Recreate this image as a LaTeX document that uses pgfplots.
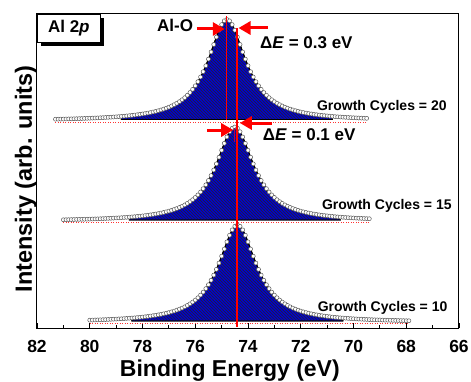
\documentclass[border=0pt]{standalone}
\usepackage{fontspec}
\setmainfont{Liberation Sans}
\usepackage{pgfplots}
\pgfplotsset{compat=1.18}
\usepackage{pgfplotstable}
\usetikzlibrary{arrows.meta,patterns,shadows}

% Growth Cycles = 20 (peak at 74.8 eV), normalized intensity
\pgfplotstableread{
x y
81.3 0.0028
81.2 0.0034
81.1 0.0040
81.0 0.0046
80.9 0.0052
80.8 0.0059
80.7 0.0066
80.6 0.0074
80.5 0.0081
80.4 0.0089
80.3 0.0098
80.2 0.0108
80.1 0.0117
80.0 0.0127
79.9 0.0138
79.8 0.0149
79.7 0.0161
79.6 0.0175
79.5 0.0188
79.4 0.0202
79.3 0.0218
79.2 0.0233
79.1 0.0251
79.0 0.0270
78.9 0.0290
78.8 0.0312
78.7 0.0334
78.6 0.0359
78.5 0.0385
78.4 0.0414
78.3 0.0445
78.2 0.0478
78.1 0.0515
78.0 0.0554
77.9 0.0597
77.8 0.0644
77.7 0.0695
77.6 0.0751
77.5 0.0813
77.4 0.0880
77.3 0.0956
77.2 0.1039
77.1 0.1131
77.0 0.1234
76.9 0.1350
76.8 0.1479
76.7 0.1624
76.6 0.1788
76.5 0.1974
76.4 0.2185
76.3 0.2425
76.2 0.2699
76.1 0.3013
76.0 0.3371
75.9 0.3782
75.8 0.4250
75.7 0.4781
75.6 0.5378
75.5 0.6038
75.4 0.6753
75.3 0.7501
75.2 0.8244
75.1 0.8932
75.0 0.9493
74.9 0.9869
74.8 1.0000
74.7 0.9869
74.6 0.9493
74.5 0.8932
74.4 0.8244
74.3 0.7501
74.2 0.6753
74.1 0.6038
74.0 0.5378
73.9 0.4781
73.8 0.4250
73.7 0.3782
73.6 0.3371
73.5 0.3013
73.4 0.2699
73.3 0.2425
73.2 0.2185
73.1 0.1974
73.0 0.1788
72.9 0.1624
72.8 0.1479
72.7 0.1350
72.6 0.1234
72.5 0.1131
72.4 0.1039
72.3 0.0956
72.2 0.0880
72.1 0.0813
72.0 0.0751
71.9 0.0695
71.8 0.0644
71.7 0.0597
71.6 0.0554
71.5 0.0515
71.4 0.0478
71.3 0.0445
71.2 0.0414
71.1 0.0385
71.0 0.0359
70.9 0.0334
70.8 0.0312
70.7 0.0290
70.6 0.0270
70.5 0.0251
70.4 0.0233
70.3 0.0218
70.2 0.0202
70.1 0.0188
70.0 0.0175
69.9 0.0161
69.8 0.0149
69.7 0.0138
69.6 0.0127
69.5 0.0117
}\specTop

% Growth Cycles = 15 (peak at 74.5 eV)
\pgfplotstableread{
x y
81.0 0.0028
80.9 0.0034
80.8 0.0040
80.7 0.0046
80.6 0.0052
80.5 0.0059
80.4 0.0066
80.3 0.0074
80.2 0.0081
80.1 0.0089
80.0 0.0098
79.9 0.0108
79.8 0.0117
79.7 0.0127
79.6 0.0138
79.5 0.0149
79.4 0.0161
79.3 0.0175
79.2 0.0188
79.1 0.0202
79.0 0.0218
78.9 0.0233
78.8 0.0251
78.7 0.0270
78.6 0.0290
78.5 0.0312
78.4 0.0334
78.3 0.0359
78.2 0.0385
78.1 0.0414
78.0 0.0445
77.9 0.0478
77.8 0.0515
77.7 0.0554
77.6 0.0597
77.5 0.0644
77.4 0.0695
77.3 0.0751
77.2 0.0813
77.1 0.0880
77.0 0.0956
76.9 0.1039
76.8 0.1131
76.7 0.1234
76.6 0.1350
76.5 0.1479
76.4 0.1624
76.3 0.1788
76.2 0.1974
76.1 0.2185
76.0 0.2425
75.9 0.2699
75.8 0.3013
75.7 0.3371
75.6 0.3782
75.5 0.4250
75.4 0.4781
75.3 0.5378
75.2 0.6038
75.1 0.6753
75.0 0.7501
74.9 0.8244
74.8 0.8932
74.7 0.9493
74.6 0.9869
74.5 1.0000
74.4 0.9869
74.3 0.9493
74.2 0.8932
74.1 0.8244
74.0 0.7501
73.9 0.6753
73.8 0.6038
73.7 0.5378
73.6 0.4781
73.5 0.4250
73.4 0.3782
73.3 0.3371
73.2 0.3013
73.1 0.2699
73.0 0.2425
72.9 0.2185
72.8 0.1974
72.7 0.1788
72.6 0.1624
72.5 0.1479
72.4 0.1350
72.3 0.1234
72.2 0.1131
72.1 0.1039
72.0 0.0956
71.9 0.0880
71.8 0.0813
71.7 0.0751
71.6 0.0695
71.5 0.0644
71.4 0.0597
71.3 0.0554
71.2 0.0515
71.1 0.0478
71.0 0.0445
70.9 0.0414
70.8 0.0385
70.7 0.0359
70.6 0.0334
70.5 0.0312
70.4 0.0290
70.3 0.0270
70.2 0.0251
70.1 0.0233
70.0 0.0218
69.9 0.0202
69.8 0.0188
69.7 0.0175
69.6 0.0161
69.5 0.0149
69.4 0.0138
}\specMid

% Growth Cycles = 10 (peak at 74.4 eV)
\pgfplotstableread{
x y
80.0 0.0089
79.9 0.0098
79.8 0.0108
79.7 0.0117
79.6 0.0127
79.5 0.0138
79.4 0.0149
79.3 0.0161
79.2 0.0175
79.1 0.0188
79.0 0.0202
78.9 0.0218
78.8 0.0233
78.7 0.0251
78.6 0.0270
78.5 0.0290
78.4 0.0312
78.3 0.0334
78.2 0.0359
78.1 0.0385
78.0 0.0414
77.9 0.0445
77.8 0.0478
77.7 0.0515
77.6 0.0554
77.5 0.0597
77.4 0.0644
77.3 0.0695
77.2 0.0751
77.1 0.0813
77.0 0.0880
76.9 0.0956
76.8 0.1039
76.7 0.1131
76.6 0.1234
76.5 0.1350
76.4 0.1479
76.3 0.1624
76.2 0.1788
76.1 0.1974
76.0 0.2185
75.9 0.2425
75.8 0.2699
75.7 0.3013
75.6 0.3371
75.5 0.3782
75.4 0.4250
75.3 0.4781
75.2 0.5378
75.1 0.6038
75.0 0.6753
74.9 0.7501
74.8 0.8244
74.7 0.8932
74.6 0.9493
74.5 0.9869
74.4 1.0000
74.3 0.9869
74.2 0.9493
74.1 0.8932
74.0 0.8244
73.9 0.7501
73.8 0.6753
73.7 0.6038
73.6 0.5378
73.5 0.4781
73.4 0.4250
73.3 0.3782
73.2 0.3371
73.1 0.3013
73.0 0.2699
72.9 0.2425
72.8 0.2185
72.7 0.1974
72.6 0.1788
72.5 0.1624
72.4 0.1479
72.3 0.1350
72.2 0.1234
72.1 0.1131
72.0 0.1039
71.9 0.0956
71.8 0.0880
71.7 0.0813
71.6 0.0751
71.5 0.0695
71.4 0.0644
71.3 0.0597
71.2 0.0554
71.1 0.0515
71.0 0.0478
70.9 0.0445
70.8 0.0414
70.7 0.0385
70.6 0.0359
70.5 0.0334
70.4 0.0312
70.3 0.0290
70.2 0.0270
70.1 0.0251
70.0 0.0233
69.9 0.0218
69.8 0.0202
69.7 0.0188
69.6 0.0175
69.5 0.0161
69.4 0.0149
69.3 0.0138
69.2 0.0127
69.1 0.0117
69.0 0.0108
68.9 0.0098
68.8 0.0089
68.7 0.0081
68.6 0.0074
68.5 0.0066
68.4 0.0059
68.3 0.0052
68.2 0.0046
68.1 0.0040
68.0 0.0034
67.9 0.0028
}\specBot

\definecolor{peakblue}{RGB}{0,0,210}
\definecolor{lred}{RGB}{255,0,0}
\pgfplotsset{
  spec/.style={width=422pt,height=314pt,scale only axis,xmin=66,xmax=82,x dir=reverse,hide axis,clip=false},
  dots/.style={only marks, mark=*, mark size=2pt, mark options={fill=white, draw=black!65, line width=0.5pt}},
  peak/.style={draw=black, line width=0.9pt, fill=peakblue, postaction={pattern=north west lines, pattern color=black!85}},
  basel/.style={red!80, dotted, line width=0.5pt},
}

\begin{document}
\begin{tikzpicture}
\path[use as bounding box] (-37pt,-53pt) rectangle (434pt,328pt);
% frame axis
\begin{axis}[width=422pt,height=314pt,scale only axis,
  xmin=66,xmax=82,ymin=0,ymax=314,x dir=reverse,
  xtick={66,68,...,82}, minor xtick={67,69,...,81}, ytick=\empty,
  xtick pos=left, tick align=inside,
  major tick length=5pt, minor tick length=3pt,
  axis line style={line width=1pt},
  every tick/.style={black, line width=0.8pt},
  /pgf/number format/assume math mode=true,
  xticklabel style={font=\bfseries\fontsize{17.5}{20}\selectfont, anchor=base, yshift=-24pt},
  xlabel={Binding Energy (eV)},
  xlabel style={font=\bfseries\fontsize{23}{26}\selectfont, at={(axis description cs:0.457,0)}, anchor=base, yshift=-48.5pt},
  ylabel={Intensity (arb. units)},
  ylabel style={font=\bfseries\fontsize{23.5}{26}\selectfont, at={(axis description cs:-0.012,0.4745)}, anchor=base},
]
\end{axis}
% top spectrum
\begin{axis}[spec, ymin=-2.085, ymax=1.055]
\addplot[basel] coordinates {(81.3,-0.025) (69.5,-0.025)};
\addplot[peak, restrict x to domain=70.8:78.8] table[x=x,y=y]{\specTop} \closedcycle;
\addplot[dots] table[x=x,y=y]{\specTop};
\end{axis}
% middle spectrum
\begin{axis}[spec, ymin=-1.1613, ymax=2.2151]
\addplot[basel] coordinates {(81.0,-0.027) (69.4,-0.027)};
\addplot[peak, restrict x to domain=70.5:78.5] table[x=x,y=y]{\specMid} \closedcycle;
\addplot[dots] table[x=x,y=y]{\specMid};
\end{axis}
% bottom spectrum
\begin{axis}[spec, ymin=-0.0729, ymax=3.1979]
\addplot[basel] coordinates {(80.0,-0.026) (67.9,-0.026)};
\addplot[peak, restrict x to domain=70.4:78.4] table[x=x,y=y]{\specBot} \closedcycle;
\addplot[dots] table[x=x,y=y]{\specBot};
\end{axis}
% annotations (pixel-like y units)
\begin{axis}[spec, ymin=0, ymax=314]
\draw[draw=lred, line width=2.2pt] (axis cs:74.42,1) -- (axis cs:74.42,300);
\draw[draw=lred, line width=1.6pt] (axis cs:74.82,312) -- (axis cs:74.82,208);
\draw[draw=red!70!blue, line width=0.8pt] (axis cs:74.52,186) -- (axis cs:74.52,200);
\draw[lred, line width=3pt, -{Triangle[length=12pt,width=13pt]}] (axis cs:75.94,299) -- (axis cs:74.88,299);
\draw[lred, line width=3pt, -{Triangle[length=12pt,width=13pt]}] (axis cs:73.25,300) -- (axis cs:74.36,300);
\draw[lred, line width=3pt, -{Triangle[length=12pt,width=13pt]}] (axis cs:75.56,198) -- (axis cs:74.56,198);
\draw[lred, line width=3pt, -{Triangle[length=12pt,width=13pt]}] (axis cs:73.10,205) -- (axis cs:74.31,205);
\node[anchor=west, inner sep=0pt, font=\bfseries\fontsize{17}{20}\selectfont] at (axis cs:77.45,303) {Al-O};
\node[anchor=west, inner sep=0pt, font=\bfseries\fontsize{17}{20}\selectfont] at (axis cs:73.55,285) {Δ\textit{E} = 0.3 eV};
\node[anchor=west, inner sep=0pt, font=\bfseries\fontsize{17}{20}\selectfont] at (axis cs:73.44,193) {Δ\textit{E} = 0.1 eV};
\node[anchor=west, inner sep=0pt, font=\bfseries\fontsize{14}{16}\selectfont] at (axis cs:71.39,221) {Growth Cycles = 20};
\node[anchor=west, inner sep=0pt, font=\bfseries\fontsize{14}{16}\selectfont] at (axis cs:71.20,122) {Growth Cycles = 15};
\node[anchor=west, inner sep=0pt, font=\bfseries\fontsize{14}{16}\selectfont] at (axis cs:71.36,20) {Growth Cycles = 10};
\node[draw=black, line width=0.7pt, fill=white, minimum width=63pt, minimum height=28pt, anchor=north west, inner sep=0pt,
  font=\bfseries\fontsize{17}{20}\selectfont,
  drop shadow={shadow xshift=4pt, shadow yshift=-4pt, fill=black, opacity=1}] at (rel axis cs:0,1) {Al 2\textit{p}};
\end{axis}
\end{tikzpicture}
\end{document}
